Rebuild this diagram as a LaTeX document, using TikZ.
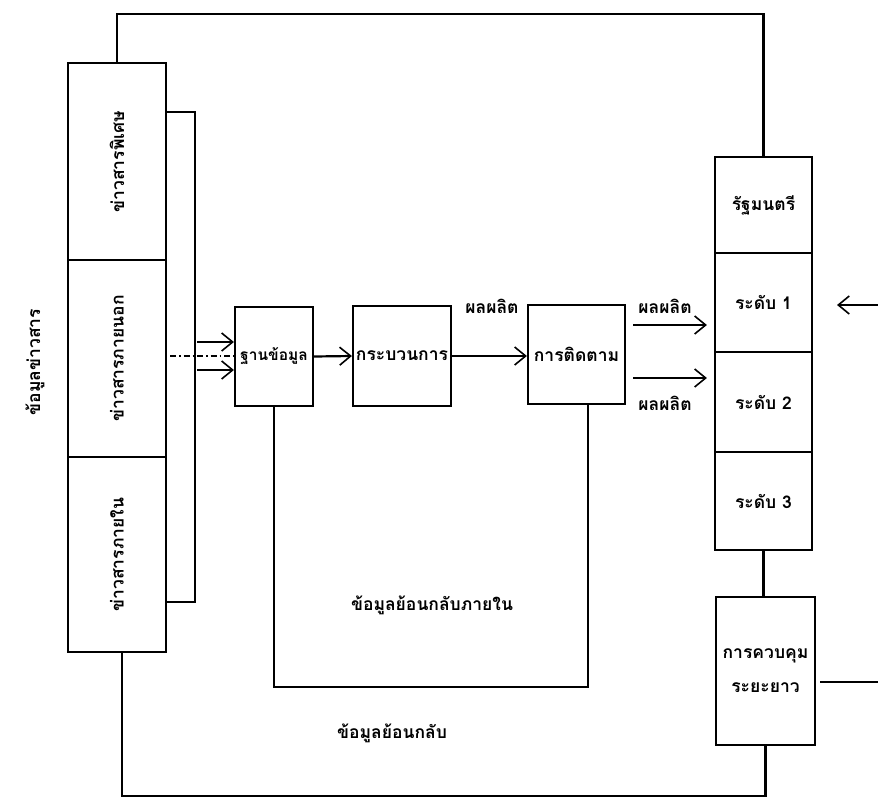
\documentclass[tikz,border=0pt]{standalone}
\usepackage{fontspec}
\newfontfamily\thaifont[Script=Thai]{Loma}
\usetikzlibrary{arrows.meta,calc}
\begin{document}
\begin{tikzpicture}[x=1pt,y=-1pt,
  ln/.style={line width=2.2pt},
  arr/.style={ln,-{Straight Barb[length=11pt,width=18pt,line width=1.6pt]}},
  bx/.style={draw,line width=2.2pt,inner sep=0pt,font=\thaifont\bfseries\fontsize{17.5}{20}\selectfont},
  lbl/.style={inner sep=0pt,font=\thaifont\bfseries\fontsize{17.5}{20}\selectfont}]
\useasboundingbox (0,0) rectangle (878,798);
% left column
\node[bx,minimum width=98pt,minimum height=197pt] (c1) at (117,161.5) {\rotatebox{90}{ข่าวสารพิเศษ}};
\node[bx,minimum width=98pt,minimum height=197pt] (c2) at (117,358.5) {\rotatebox{90}{ข่าวสารภายนอก}};
\node[bx,minimum width=98pt,minimum height=195pt] (c3) at (117,554.5) {\rotatebox{90}{ข่าวสารภายใน}};
\node[lbl,rotate=90] (info) at (35,362) {ข้อมูลข่าวสาร};
% bracket behind
\coordinate (bt) at (166,112);
\coordinate (bb) at (166,602);
\draw[ln] (bt) -- (195,112) -- (195,602) -- (bb);
% inputs
\coordinate (in0) at (170,356);
\coordinate (in1) at (197,342);
\coordinate (in2) at (197,370);
% middle row
\node[bx,minimum width=78pt,minimum height=99pt,font=\thaifont\bfseries\fontsize{15.5}{18}\selectfont] (db) at (274,356.5) {ฐานข้อมูล};
\node[bx,minimum width=98pt,minimum height=100pt] (proc) at (402,356) {กระบวนการ};
\node[bx,minimum width=97pt,minimum height=99pt] (mon) at (576.5,354.5) {การติดตาม};
\draw[ln,dash pattern=on 6pt off 3pt on 1.5pt off 3pt] (in0) -- (in0 -| db.west);
\draw[arr] (in1) -- (in1 -| db.west);
\draw[arr] (in2) -- (in2 -| db.west);
\draw[arr] (db.east) -- (proc.west);
\draw[arr] (proc.east) -- (proc.east -| mon.west);
\node[lbl] (out0) at (492,306) {ผลผลิต};
% right column
\node[bx,minimum width=97pt,minimum height=96pt] (r0) at (763.5,205) {รัฐมนตรี};
\node[bx,minimum width=97pt,minimum height=99pt] (r1) at (763.5,302.5) {ระดับ 1};
\node[bx,minimum width=97pt,minimum height=100pt] (r2) at (763.5,402) {ระดับ 2};
\node[bx,minimum width=97pt,minimum height=98pt] (r3) at (763.5,501) {ระดับ 3};
\node[bx,minimum width=99pt,minimum height=148pt,align=center] (ctrl) at (765.5,671) {การควบคุม\\[14pt]ระยะยาว};
% outputs to right column
\draw[arr,shorten <=7pt,shorten >=7pt] (mon.east |- 0,325) -- (r1.west |- 0,325);
\draw[arr,shorten <=7pt,shorten >=7pt] (mon.east |- 0,378) -- (r1.west |- 0,378);
\node[lbl] (out1) at (665,306) {ผลผลิต};
\node[lbl] (out2) at (665,403) {ผลผลิต};
% top loop
\draw[ln] (c1.north) -- (117,14) -- (763.5,14) -- (r0.north);
% connector r3 - ctrl
\draw[ln] (r3.south) -- (r3.south |- ctrl.north);
% bottom feedback
\draw[ln] (ctrl.south) -- (ctrl.south |- 0,796) -- (122,796) -- (122,652);
\node[lbl] (fb) at (392,733) {ข้อมูลย้อนกลับ};
% internal feedback
\coordinate (mf) at (588,404);
\draw[ln] (db.south) -- (db.south |- 0,687) -- (588,687) -- (mf);
\node[lbl] (ifb) at (432,605) {ข้อมูลย้อนกลับภายใน};
% right edge
\coordinate (re1) at (878,305);
\coordinate (re2) at (878,682);
\draw[arr] (re1) -- (837,305);
\draw[ln] (820,682) -- (re2);
\end{tikzpicture}
\end{document}
